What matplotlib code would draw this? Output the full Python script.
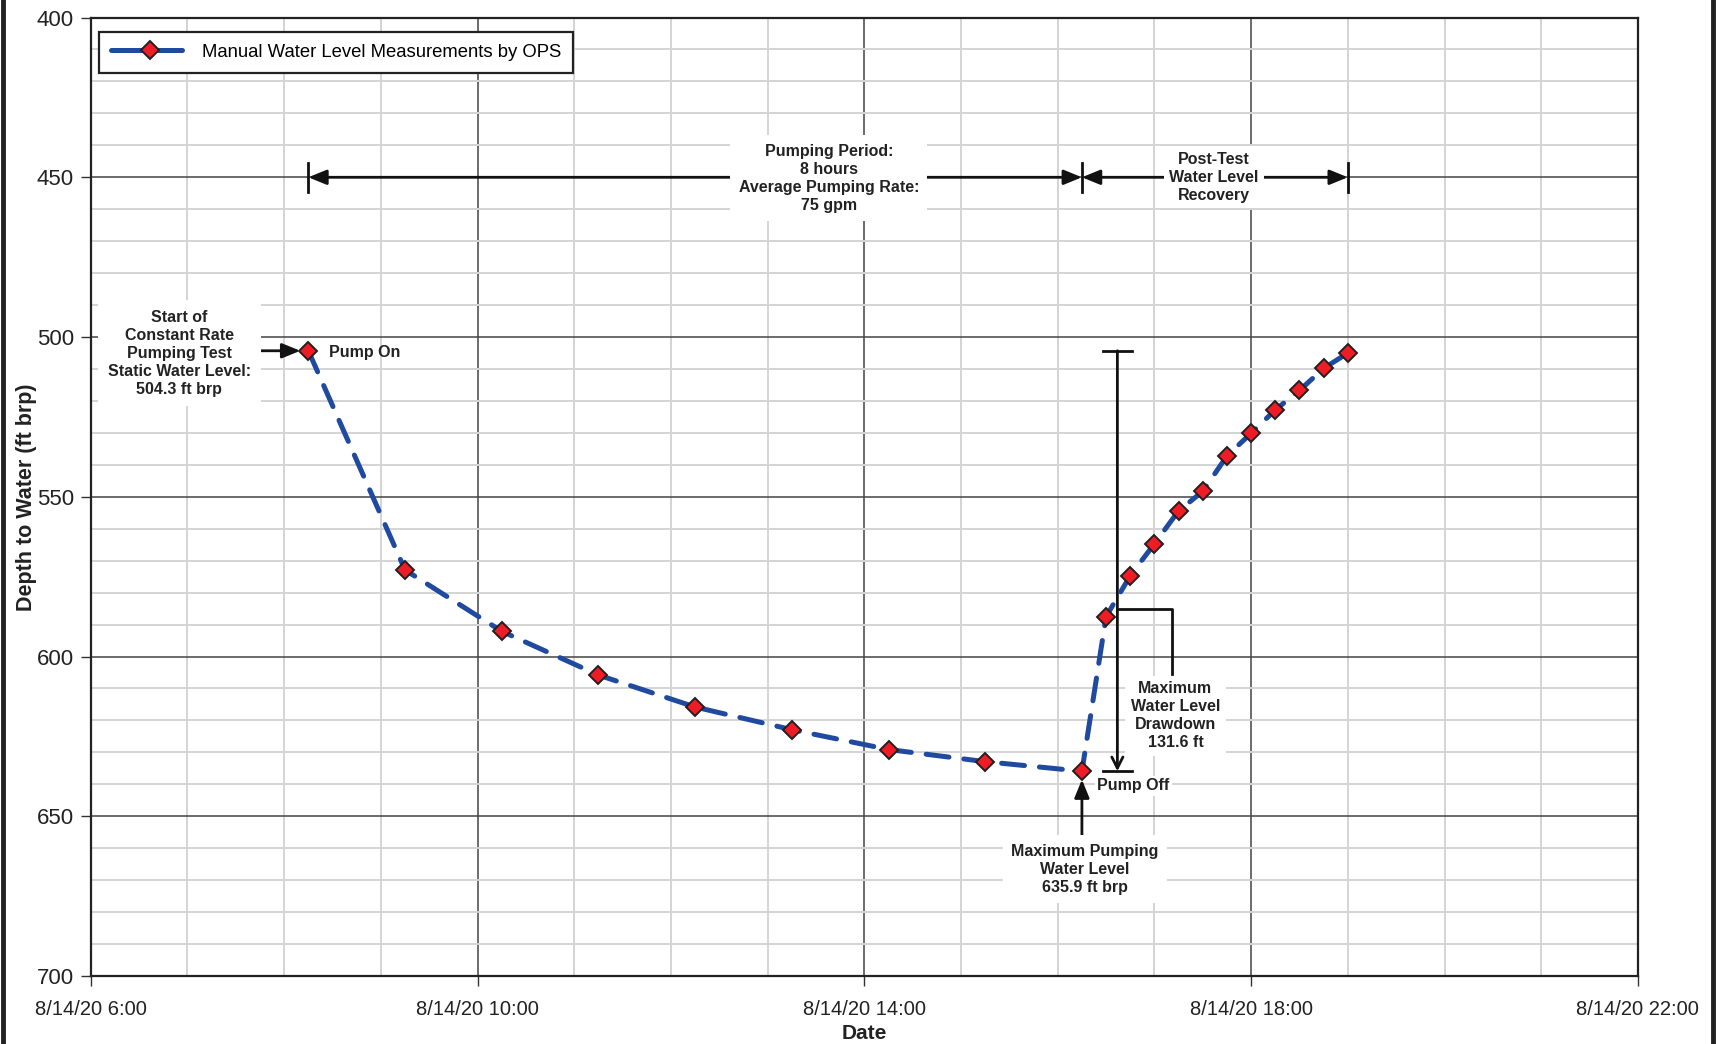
import matplotlib
matplotlib.use("Agg")
import matplotlib.pyplot as plt
import matplotlib.dates as mdates
from matplotlib.ticker import MultipleLocator, FuncFormatter
from matplotlib.lines import Line2D
import pandas as pd

plt.rcParams['font.family'] = ['Liberation Sans', 'DejaVu Sans']

# ---- data ----
times = ["08:15", "09:15", "10:15", "11:15", "12:15", "13:15", "14:15", "15:15", "16:15",
         "16:30", "16:45", "17:00", "17:15", "17:30", "17:45", "18:00", "18:15", "18:30",
         "18:45", "19:00"]
depth = [504.3, 572.9, 592.1, 605.8, 615.8, 622.9, 629.1, 632.9, 635.9,
         587.5, 574.7, 564.7, 554.4, 548.3, 537.2, 530.1, 522.8, 516.7,
         509.8, 505.0]
series_label = "Manual Water Level Measurements by OPS"

day = "2020-08-14 "
t = pd.to_datetime([day + s for s in times])
def T(s):
    return pd.Timestamp(day + s)

fig = plt.figure(figsize=(17.16, 10.44), dpi=100)
ax = fig.add_axes([0.0529, 0.0651, 0.9016, 0.9181])

ax.set_xlim(T("06:00"), T("22:00"))
ax.set_ylim(700, 400)

ax.xaxis.set_major_locator(mdates.HourLocator(byhour=[6, 10, 14, 18, 22]))
ax.xaxis.set_minor_locator(mdates.HourLocator())
def fmt(x, pos):
    d = mdates.num2date(x)
    return f"{d.month}/{d.day}/{d.strftime('%y')} {d.hour}:{d.minute:02d}"
ax.xaxis.set_major_formatter(FuncFormatter(fmt))
ax.yaxis.set_major_locator(MultipleLocator(50))
ax.yaxis.set_minor_locator(MultipleLocator(10))

ax.grid(which='minor', color='#d4d4d4', lw=1.4, zorder=0)
ax.grid(which='major', color='#444444', lw=1.1, zorder=0)
ax.tick_params(which='minor', length=0)
ax.tick_params(which='major', length=7, width=1.0, color='#333333', labelsize=14.5,
               labelcolor='#222222', pad=5)
ax.tick_params(axis='y', labelsize=16)
ax.tick_params(axis='x', pad=10)
for s in ax.spines.values():
    s.set_color('#222222')
    s.set_linewidth(1.6)
ax.set_axisbelow(True)

ax.set_ylabel("Depth to Water (ft brp)", fontsize=15.5, fontweight='bold', color='#222222', labelpad=0)
ax.set_xlabel("Date", fontsize=15, fontweight='bold', color='#222222', labelpad=4)

line_style = dict(color='#1f4aa0', lw=3.6, dash_capstyle='round',
                  marker='D', markersize=9, markerfacecolor='#ee1c24', markeredgecolor='#231f20',
                  markeredgewidth=1.4)
ax.plot(t, depth, dashes=(4.6, 3.0), zorder=5, **line_style)

proxy = Line2D([], [], dashes=(6.4, 1.4), **line_style)
leg = ax.legend([proxy], [series_label], loc='upper left', bbox_to_anchor=(0.002, 0.991),
                fontsize=13.3, frameon=True, fancybox=False, edgecolor='#222222',
                handlelength=4.2, borderpad=0.65, handletextpad=0.7, borderaxespad=0.3)
leg.get_frame().set_linewidth(1.6)
leg.get_frame().set_alpha(1)

tc = '#222222'
bold = dict(fontsize=11.5, fontweight='bold', color=tc, ha='center', va='center', linespacing=1.25)
wbox = dict(fc='white', ec='none', pad=4)
arr_fill = dict(arrowstyle='-|>,head_length=1.1,head_width=0.45', color='#111111', lw=2.0,
                shrinkA=0, shrinkB=0)

# top arrows at 450
y0 = 450
ax.annotate('', xy=(T("08:15"), y0), xytext=(T("13:40"), y0), arrowprops=arr_fill, zorder=3)
ax.annotate('', xy=(T("16:15"), y0), xytext=(T("13:40"), y0), arrowprops=arr_fill, zorder=3)
ax.annotate('', xy=(T("16:15"), y0), xytext=(T("17:37"), y0), arrowprops=arr_fill, zorder=3)
ax.annotate('', xy=(T("19:00"), y0), xytext=(T("17:37"), y0), arrowprops=arr_fill, zorder=3)
for s in ["08:15", "16:15", "19:00"]:
    ax.plot([T(s), T(s)], [445.5, 454.5], color='#111111', lw=2.0, zorder=3)
ax.text(T("13:38"), 450.3, "Pumping Period:\n8 hours\nAverage Pumping Rate:\n75 gpm",
        bbox=dict(fc='white', ec='none', pad=6), zorder=4, **bold)
ax.text(T("17:37"), 450.0, "Post-Test\nWater Level\nRecovery", bbox=wbox, zorder=4, **bold)

# start annotation
ax.annotate('', xy=(T("08:10"), 504.3), xytext=(T("07:43"), 504.3), arrowprops=arr_fill, zorder=3)
ax.text(T("06:55"), 505.0, "Start of\nConstant Rate\nPumping Test\nStatic Water Level:\n504.3 ft brp",
        bbox=dict(fc='white', ec='none', pad=7), zorder=4, **bold)
ax.text(T("08:28"), 504.8, "Pump On", fontsize=11.5, fontweight='bold', color=tc, ha='left', va='center',
        zorder=4)

# drawdown bracket
xd = T("16:37")
ax.plot([T("16:28"), T("16:46")], [504.3, 504.3], color='#111111', lw=2.0, zorder=3)
ax.plot([T("16:28"), T("16:46")], [635.9, 635.9], color='#111111', lw=2.0, zorder=3)
ax.annotate('', xy=(xd, 635.9), xytext=(xd, 504.3),
            arrowprops=dict(arrowstyle='->,head_length=0.8,head_width=0.4', color='#111111', lw=2.0,
                            shrinkA=0, shrinkB=0), zorder=3)
ax.plot([xd, T("17:11"), T("17:11")], [585.0, 585.0, 605.5], color='#111111', lw=2.0, zorder=3)
ax.text(T("17:13"), 618.5, "Maximum\nWater Level\nDrawdown\n131.6 ft", bbox=wbox, zorder=4, **bold)

ax.text(T("16:47"), 640.5, "Pump Off", bbox=dict(fc='white', ec='none', pad=2), zorder=4, **bold)

# max pumping annotation
ax.annotate('', xy=(T("16:15"), 638.5), xytext=(T("16:15"), 657), arrowprops=arr_fill, zorder=3)
ax.text(T("16:17"), 666.5, "Maximum Pumping\nWater Level\n635.9 ft brp",
        bbox=dict(fc='white', ec='none', pad=6), zorder=4, **bold)

# figure side borders
fig.add_artist(plt.Line2D([0.0015, 0.0015], [0, 1], transform=fig.transFigure, color='#222222', lw=3.5))
fig.add_artist(plt.Line2D([0.9985, 0.9985], [0, 1], transform=fig.transFigure, color='#222222', lw=3.5))

fig.savefig("out.png", dpi=100)
